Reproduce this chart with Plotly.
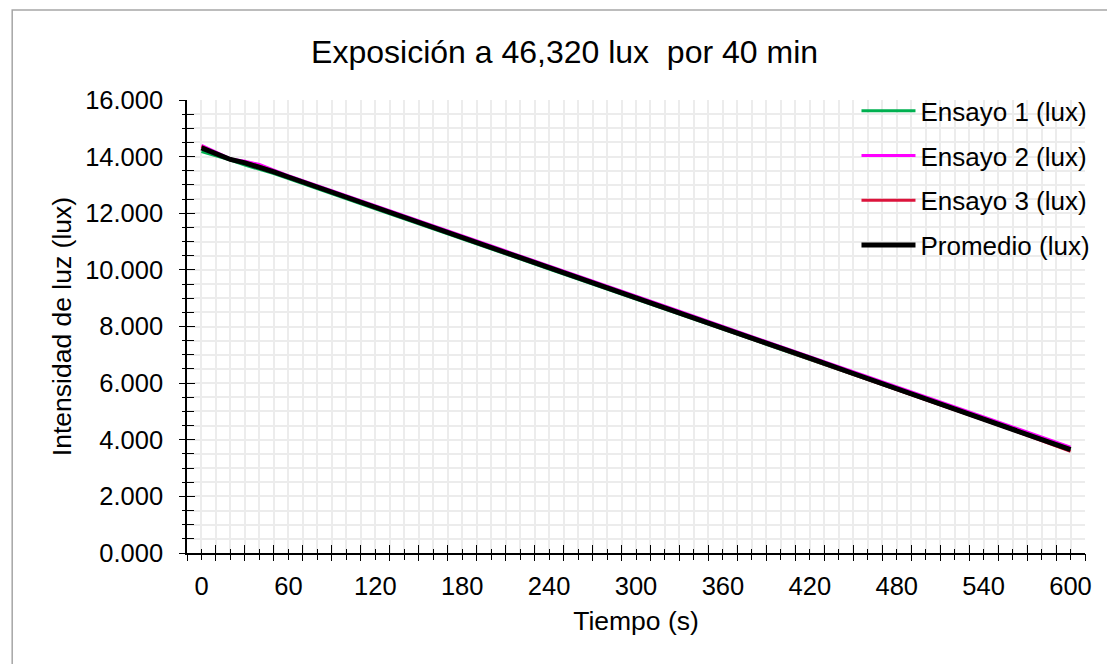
import plotly.graph_objects as go

# Tiempo de medición (s)
tiempo = [0, 10, 20, 30, 40, 50, 60, 90, 120, 150, 180, 210, 240, 270, 300,
          330, 360, 390, 420, 450, 480, 510, 540, 570, 600]

# Intensidad de luz medida en cada ensayo
ensayo_1 = [14.18, 14.03, 13.88, 13.70, 13.55, 13.40, 13.22, 12.70, 12.16, 11.63,
            11.09, 10.56, 10.03, 9.50, 8.97, 8.44, 7.91, 7.38, 6.85, 6.31,
            5.78, 5.24, 4.71, 4.17, 3.63]
ensayo_2 = [14.40, 14.15, 13.92, 13.84, 13.72, 13.52, 13.33, 12.80, 12.27, 11.74,
            11.20, 10.67, 10.14, 9.60, 9.07, 8.54, 8.00, 7.47, 6.94, 6.40,
            5.87, 5.34, 4.80, 4.27, 3.74]
ensayo_3 = [14.36, 14.10, 13.89, 13.80, 13.66, 13.46, 13.28, 12.74, 12.20, 11.66,
            11.13, 10.60, 10.06, 9.53, 8.99, 8.45, 7.92, 7.38, 6.85, 6.31,
            5.77, 5.23, 4.70, 4.16, 3.59]
promedio = [14.31, 14.09, 13.90, 13.78, 13.64, 13.46, 13.28, 12.75, 12.21, 11.68,
            11.14, 10.61, 10.08, 9.54, 9.01, 8.48, 7.94, 7.41, 6.88, 6.34,
            5.81, 5.27, 4.74, 4.20, 3.65]

x_labels = [0, 60, 120, 180, 240, 300, 360, 420, 480, 540, 600]
y_labels = [0, 2, 4, 6, 8, 10, 12, 14, 16]

FONT = "Liberation Sans, Arial, sans-serif"
GRID = "#ececec"

series = [
    ("Ensayo 1 (lux)", ensayo_1, "#00B050", 3),
    ("Ensayo 2 (lux)", ensayo_2, "#FF00FF", 3),
    ("Ensayo 3 (lux)", ensayo_3, "#DC143C", 3),
    ("Promedio (lux)", promedio, "#000000", 5),
]

fig = go.Figure()
for i, (name, vals, color, w) in enumerate(series):
    fig.add_trace(go.Scatter(
        x=tiempo, y=vals, name=name, mode="lines",
        line=dict(color=color, width=w), legendgroup=f"g{i}",
    ))

# empty traces so the tick-mark overlay axes get drawn
for xa, ya in [("x2", "y2"), ("x3", "y3")]:
    fig.add_trace(go.Scatter(x=[], y=[], xaxis=xa, yaxis=ya,
                             showlegend=False, hoverinfo="skip"))

x_range = [-10, 610]
y_range = [0, 16]

fig.update_layout(
    width=1107, height=664,
    margin=dict(l=187, r=21, t=100, b=111),
    paper_bgcolor="white", plot_bgcolor="white",
    font=dict(family=FONT, size=24, color="black"),
    title=dict(text="Exposición a 46,320 lux  por 40 min",
               x=0.51, xanchor="center", y=0.922, yanchor="middle",
               font=dict(size=32)),
    showlegend=True,
    legend=dict(x=0.7447, xanchor="left", y=1.028, yanchor="top",
                bgcolor="rgba(0,0,0,0)", font=dict(size=26),
                itemwidth=54, traceorder="grouped", tracegroupgap=8),
    xaxis=dict(
        range=x_range, tickmode="array", tickvals=x_labels,
        ticktext=[str(v) for v in x_labels], ticks="",
        tickfont=dict(size=25.5), ticklabelstandoff=10,
        showline=True, linecolor="black", linewidth=1.5,
        showgrid=True, gridcolor=GRID, gridwidth=1.5,
        minor=dict(tickmode="linear", tick0=0, dtick=10, showgrid=True,
                   gridcolor=GRID, gridwidth=1.5, ticks=""),
        zeroline=False,
        title=dict(text="Tiempo (s)", standoff=12,
                   font=dict(family=FONT, size=26.5, color="black")),
    ),
    yaxis=dict(
        range=y_range, tickmode="array", tickvals=y_labels,
        tickformat=".3f", ticks="", tickfont=dict(size=25.5),
        ticklabelstandoff=17,
        showline=True, linecolor="black", linewidth=1.5,
        showgrid=True, gridcolor=GRID, gridwidth=1.5,
        minor=dict(tickmode="linear", tick0=0, dtick=0.5, showgrid=True,
                   gridcolor=GRID, gridwidth=1.5, ticks=""),
        zeroline=False,
        title=dict(text="Intensidad de luz (lux)", standoff=6,
                   font=dict(family=FONT, size=26.5, color="black")),
    ),
    # tick marks crossing the axis lines: outside half and inside half
    xaxis2=dict(range=x_range, overlaying="x", anchor="y", side="bottom",
                showgrid=False, zeroline=False, showticklabels=False,
                tickmode="linear", tick0=-10, dtick=20, ticks="outside",
                ticklen=7, tickwidth=1.3, tickcolor="black",
                minor=dict(tickmode="linear", tick0=0, dtick=20, ticks="outside",
                           ticklen=6, tickwidth=1.3, tickcolor="black")),
    xaxis3=dict(range=x_range, overlaying="x", anchor="y", side="bottom",
                showgrid=False, zeroline=False, showticklabels=False,
                tickmode="linear", tick0=-10, dtick=20, ticks="inside",
                ticklen=8, tickwidth=1.3, tickcolor="black",
                minor=dict(tickmode="linear", tick0=0, dtick=20, ticks="inside",
                           ticklen=4, tickwidth=1.3, tickcolor="black")),
    yaxis2=dict(range=y_range, overlaying="y", anchor="x", side="left",
                showgrid=False, zeroline=False, showticklabels=False,
                tickmode="linear", tick0=0, dtick=2, ticks="outside",
                ticklen=7, tickwidth=1.3, tickcolor="black",
                minor=dict(tickmode="linear", tick0=0, dtick=0.5, ticks="outside",
                           ticklen=4, tickwidth=1.3, tickcolor="black")),
    yaxis3=dict(range=y_range, overlaying="y", anchor="x", side="left",
                showgrid=False, zeroline=False, showticklabels=False,
                tickmode="linear", tick0=0, dtick=2, ticks="inside",
                ticklen=8, tickwidth=1.3, tickcolor="black",
                minor=dict(tickmode="linear", tick0=0, dtick=0.5, ticks="inside",
                           ticklen=7, tickwidth=1.3, tickcolor="black")),
)

# thin grey frame around the chart area
fig.add_shape(type="rect", xref="paper", yref="paper",
              x0=(12 - 187) / 899, x1=1 + (1110 - 1086) / 899,
              y0=-(670 - 553) / 453, y1=1 + (100 - 10) / 453,
              line=dict(color="#a6a6a6", width=1.5), fillcolor="rgba(0,0,0,0)",
              layer="below")

fig.write_html("out.html")
